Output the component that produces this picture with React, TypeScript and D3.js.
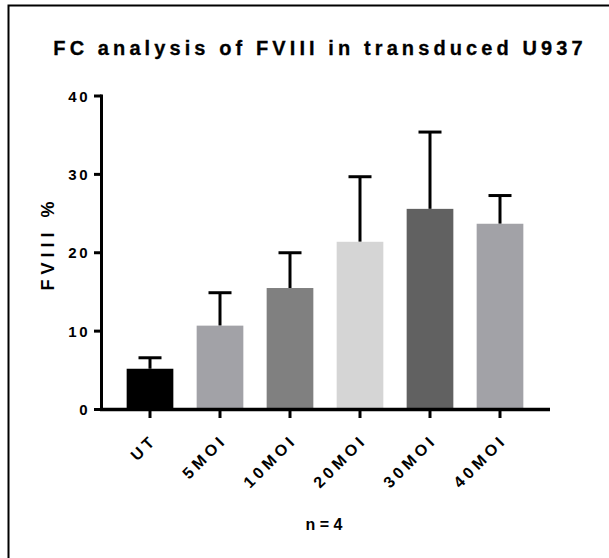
import React from 'react'
import * as d3 from 'd3'

const categories = ['UT', '5MOI', '10MOI', '20MOI', '30MOI', '40MOI']
const means = [5.2, 10.7, 15.5, 21.4, 25.6, 23.7]
const errors = [1.4, 4.2, 4.5, 8.3, 9.8, 3.6]
const barColors = ['#000000', '#a2a2a7', '#808080', '#d5d5d5', '#616161', '#a2a2a7']
const yTicks = [0, 10, 20, 30, 40]

const W = 609
const H = 558
const font = '"Liberation Sans", Arial, sans-serif'

export default function App() {
  const y = d3.scaleLinear().domain([0, 40]).range([409.5, 96])
  const x = d3
    .scaleBand<string>()
    .domain(categories)
    .range([115, 535])
    .paddingInner(0.333)
    .paddingOuter(0.1665)
  const axisX = 101.5
  const axisY = 409.5
  const cap = 23

  return (
    <svg
      width={W}
      height={H}
      style={{ position: 'absolute', left: 0, top: 0, background: '#fff' }}
      fontFamily={font}
      fontWeight="bold"
    >
      <rect x={8.5} y={5.5} width={800} height={800} fill="none" stroke="#000" strokeWidth={2} />
      <text x={320} y={55} textAnchor="middle" fontSize={20} letterSpacing={4.1} stroke="#000" strokeWidth={0.3}>
        FC analysis of FVIII in transduced U937
      </text>

      {categories.map((c, i) => {
        const bx = x(c)!
        const cx = bx + x.bandwidth() / 2
        const top = y(means[i])
        const et = y(means[i] + errors[i])
        return (
          <g key={c}>
            <line x1={cx} x2={cx} y1={top} y2={et} stroke="#000" strokeWidth={3} />
            <line x1={cx - cap / 2} x2={cx + cap / 2} y1={et} y2={et} stroke="#000" strokeWidth={3} />
            <rect x={bx} y={top} width={x.bandwidth()} height={axisY - top} fill={barColors[i]} />
          </g>
        )
      })}

      {/* y axis */}
      <line x1={axisX} x2={axisX} y1={y(40) - 1.5} y2={axisY + 1.5} stroke="#000" strokeWidth={3} />
      {yTicks.map((t) => (
        <g key={t}>
          <line x1={94} x2={axisX} y1={y(t)} y2={y(t)} stroke="#000" strokeWidth={3} />
          <text x={90} y={y(t) + 5.5} textAnchor="end" fontSize={15} letterSpacing={2.5}>
            {t}
          </text>
        </g>
      ))}
      <text
        transform={`translate(54,243.5) rotate(-90)`}
        textAnchor="middle"
        fontSize={18}
        letterSpacing={5}
      >
        FVIII %
      </text>

      {/* x axis */}
      <line x1={axisX - 1.5} x2={550} y1={axisY} y2={axisY} stroke="#000" strokeWidth={3.5} />
      {categories.map((c) => {
        const cx = x(c)! + x.bandwidth() / 2
        return (
          <g key={c}>
            <line x1={cx} x2={cx} y1={axisY} y2={418} stroke="#000" strokeWidth={3} />
            <text
              transform={`translate(${cx + 8},${441}) rotate(-45)`}
              textAnchor="end"
              fontSize={16}
              letterSpacing={4}
            >
              {c}
            </text>
          </g>
        )
      })}
      <text x={324} y={530} textAnchor="middle" fontSize={16}>
        n = 4
      </text>
    </svg>
  )
}
